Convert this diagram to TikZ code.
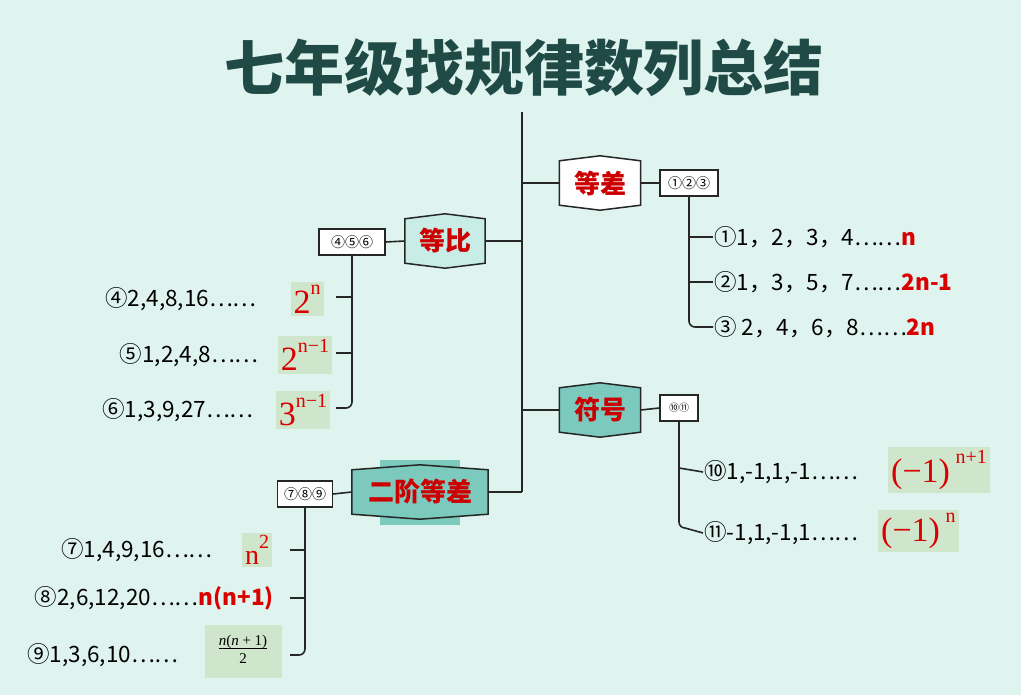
\documentclass[tikz,border=0pt]{standalone}
\usepackage{fontspec}
\setmainfont{Noto Sans CJK SC}
\newfontfamily\serifm{Liberation Serif}
\newcommand\sps[1]{\raisebox{0.55em}{\fontsize{20}{20}\selectfont #1}}
\begin{document}
\begin{tikzpicture}[x=1pt,y=-1pt,
  ln/.style={line width=1.6pt,draw=black!85},
  sbox/.style={draw=black!85,line width=1.3pt,fill=white,minimum height=26pt,inner sep=2pt,font=\fontsize{14}{14}\selectfont},
  hexn/.style={minimum width=#1,minimum height=54pt,inner sep=0pt,text=red!80!black,font=\fontsize{26}{26}\selectfont\bfseries},
  item/.style={font=\fontsize{22.5}{22.5}\selectfont,inner sep=1pt},
  gbox/.style={fill=gfill,inner sep=3pt,text=red!85!black,font=\serifm\fontsize{34}{34}\selectfont}]
\definecolor{bg}{HTML}{DFF3EF}
\definecolor{gfill}{HTML}{CFE6CC}
\definecolor{teal1}{HTML}{7CCABE}
\definecolor{teal2}{HTML}{C8ECE6}
\definecolor{ttl}{HTML}{1F4A45}
\fill[bg] (0,0) rectangle (1021,695);
\useasboundingbox (0,0) rectangle (1021,695);
\newcommand\hexdraw[2]{%
 \path[draw=black!85,line width=1.5pt,fill=#2] ([yshift=-5pt]#1.north west) -- (#1.north) -- ([yshift=-5pt]#1.north east) -- ([yshift=5pt]#1.south east) -- (#1.south) -- ([yshift=5pt]#1.south west) -- cycle;}
\node[text=ttl,font=\fontsize{60}{60}\selectfont\bfseries] (title) at (524,68) {七年级找规律数列总结};
\coordinate (top) at (522,112);
\coordinate (bot) at (522,492);
\draw[ln] (top) -- (bot);
% 等差
\node[hexn=81pt] (dc) at (600,183) {};
\hexdraw{dc}{white}
\node[hexn=81pt] at (600,183) {等差};
\draw[ln] (522,183) -- (dc.west);
\node[sbox,minimum width=58pt] (b1) at (689,183) {①②③};
\draw[ln] (dc.east) -- (b1.west);
\node[item,anchor=west] (i1) at (713,237) {①1，2，3，4……\textcolor{red!85!black}{\bfseries n}};
\node[item,anchor=west] (i2) at (713,282) {②1，3，5，7……\textcolor{red!85!black}{\bfseries 2n-1}};
\node[item,anchor=west] (i3) at (713,327) {③ 2，4，6，8……\textcolor{red!85!black}{\bfseries 2n}};
\draw[ln] (b1.south) -- (689,321) to[out=-90,in=180] (695,327) -- (i3.west);
\draw[ln] (689,237) -- (i1.west);
\draw[ln] (689,282) -- (i2.west);
% 等比
\node[hexn=80pt] (db) at (445,241) {};
\hexdraw{db}{teal2}
\node[hexn=80pt] at (445,241) {等比};
\draw[ln] (db.east) -- (522,241);
\node[sbox,minimum width=66pt] (b2) at (352,242) {④⑤⑥};
\draw[ln] (b2.east) -- (db.west);
\node[gbox] (g4) at (307,299) {2\sps{n}};
\node[gbox] (g5) at (305,355) {2\sps{n−1}};
\node[gbox] (g6) at (303,410) {3\sps{n−1}};
\node[item,anchor=east] (i4) at (258,299) {④2,4,8,16……};
\node[item,anchor=east] (i5) at (260,355) {⑤1,2,4,8……};
\node[item,anchor=east] (i6) at (255,410) {⑥1,3,9,27……};
\draw[ln] (b2.south) -- (352,402) to[out=-90,in=0] (346,408) -- (336,408);
\draw[ln] (352,297) -- (336,297);
\draw[ln] (352,353) -- (336,353);
% 符号
\node[hexn=81pt] (fh) at (600,410) {};
\hexdraw{fh}{teal1}
\node[hexn=81pt] at (600,410) {符号};
\draw[ln] (522,410) -- (fh.west);
\node[sbox,minimum width=38pt,font=\fontsize{10}{10}\selectfont] (b4) at (679,408) {⑩⑪};
\draw[ln] (fh.east) -- (b4.west);
\node[item,anchor=west] (i10) at (703,472) {⑩1,-1,1,-1……};
\node[item,anchor=west] (i11) at (703,533) {⑪-1,1,-1,1……};
\node[gbox,anchor=west] (g10) at (888,470) {(−1)\,\sps{n+1}};
\node[gbox,anchor=west] (g11) at (878,531) {(−1)\,\sps{n}};
\draw[ln] (b4.south) -- (679,522) to[out=-90,in=180] (685,528) -- (i11.west);
\draw[ln] (679,468) -- (i10.west);
% 二阶等差
\node[hexn=136pt] (ej) at (420,492) {};
\fill[teal1] (380,460) rectangle (460,525);
\hexdraw{ej}{teal1}
\node[hexn=136pt] at (420,492) {二阶等差};
\draw[ln] (ej.east) -- (bot);
\node[sbox,minimum width=55pt] (b3) at (305,494) {⑦⑧⑨};
\draw[ln] (b3.east) -- (ej.west);
\node[gbox,font=\serifm\fontsize{28}{28}\selectfont] (g7) at (257,550) {n\sps{2}};
\node[item,anchor=east] (i7) at (214,550) {⑦1,4,9,16……};
\node[item,anchor=east] (i8) at (275,598) {⑧2,6,12,20……\textcolor{red!85!black}{\bfseries n(n+1)}};
\node[gbox,text=black,font=\serifm\fontsize{15}{17}\selectfont,minimum width=77pt,minimum height=53pt] (g9) at (243,651) {\begin{tabular}{@{}c@{}}\textit{n}(\textit{n} + 1)\\[-2pt]\hline\rule{0pt}{15pt}2\end{tabular}};
\node[item,anchor=east] (i9) at (180,655) {⑨1,3,6,10……};
\draw[ln] (b3.south) -- (305,649) to[out=-90,in=0] (299,655) -- (290,655);
\draw[ln] (305,550) -- (290,550);
\draw[ln] (305,598) -- (290,598);
\end{tikzpicture}
\end{document}
